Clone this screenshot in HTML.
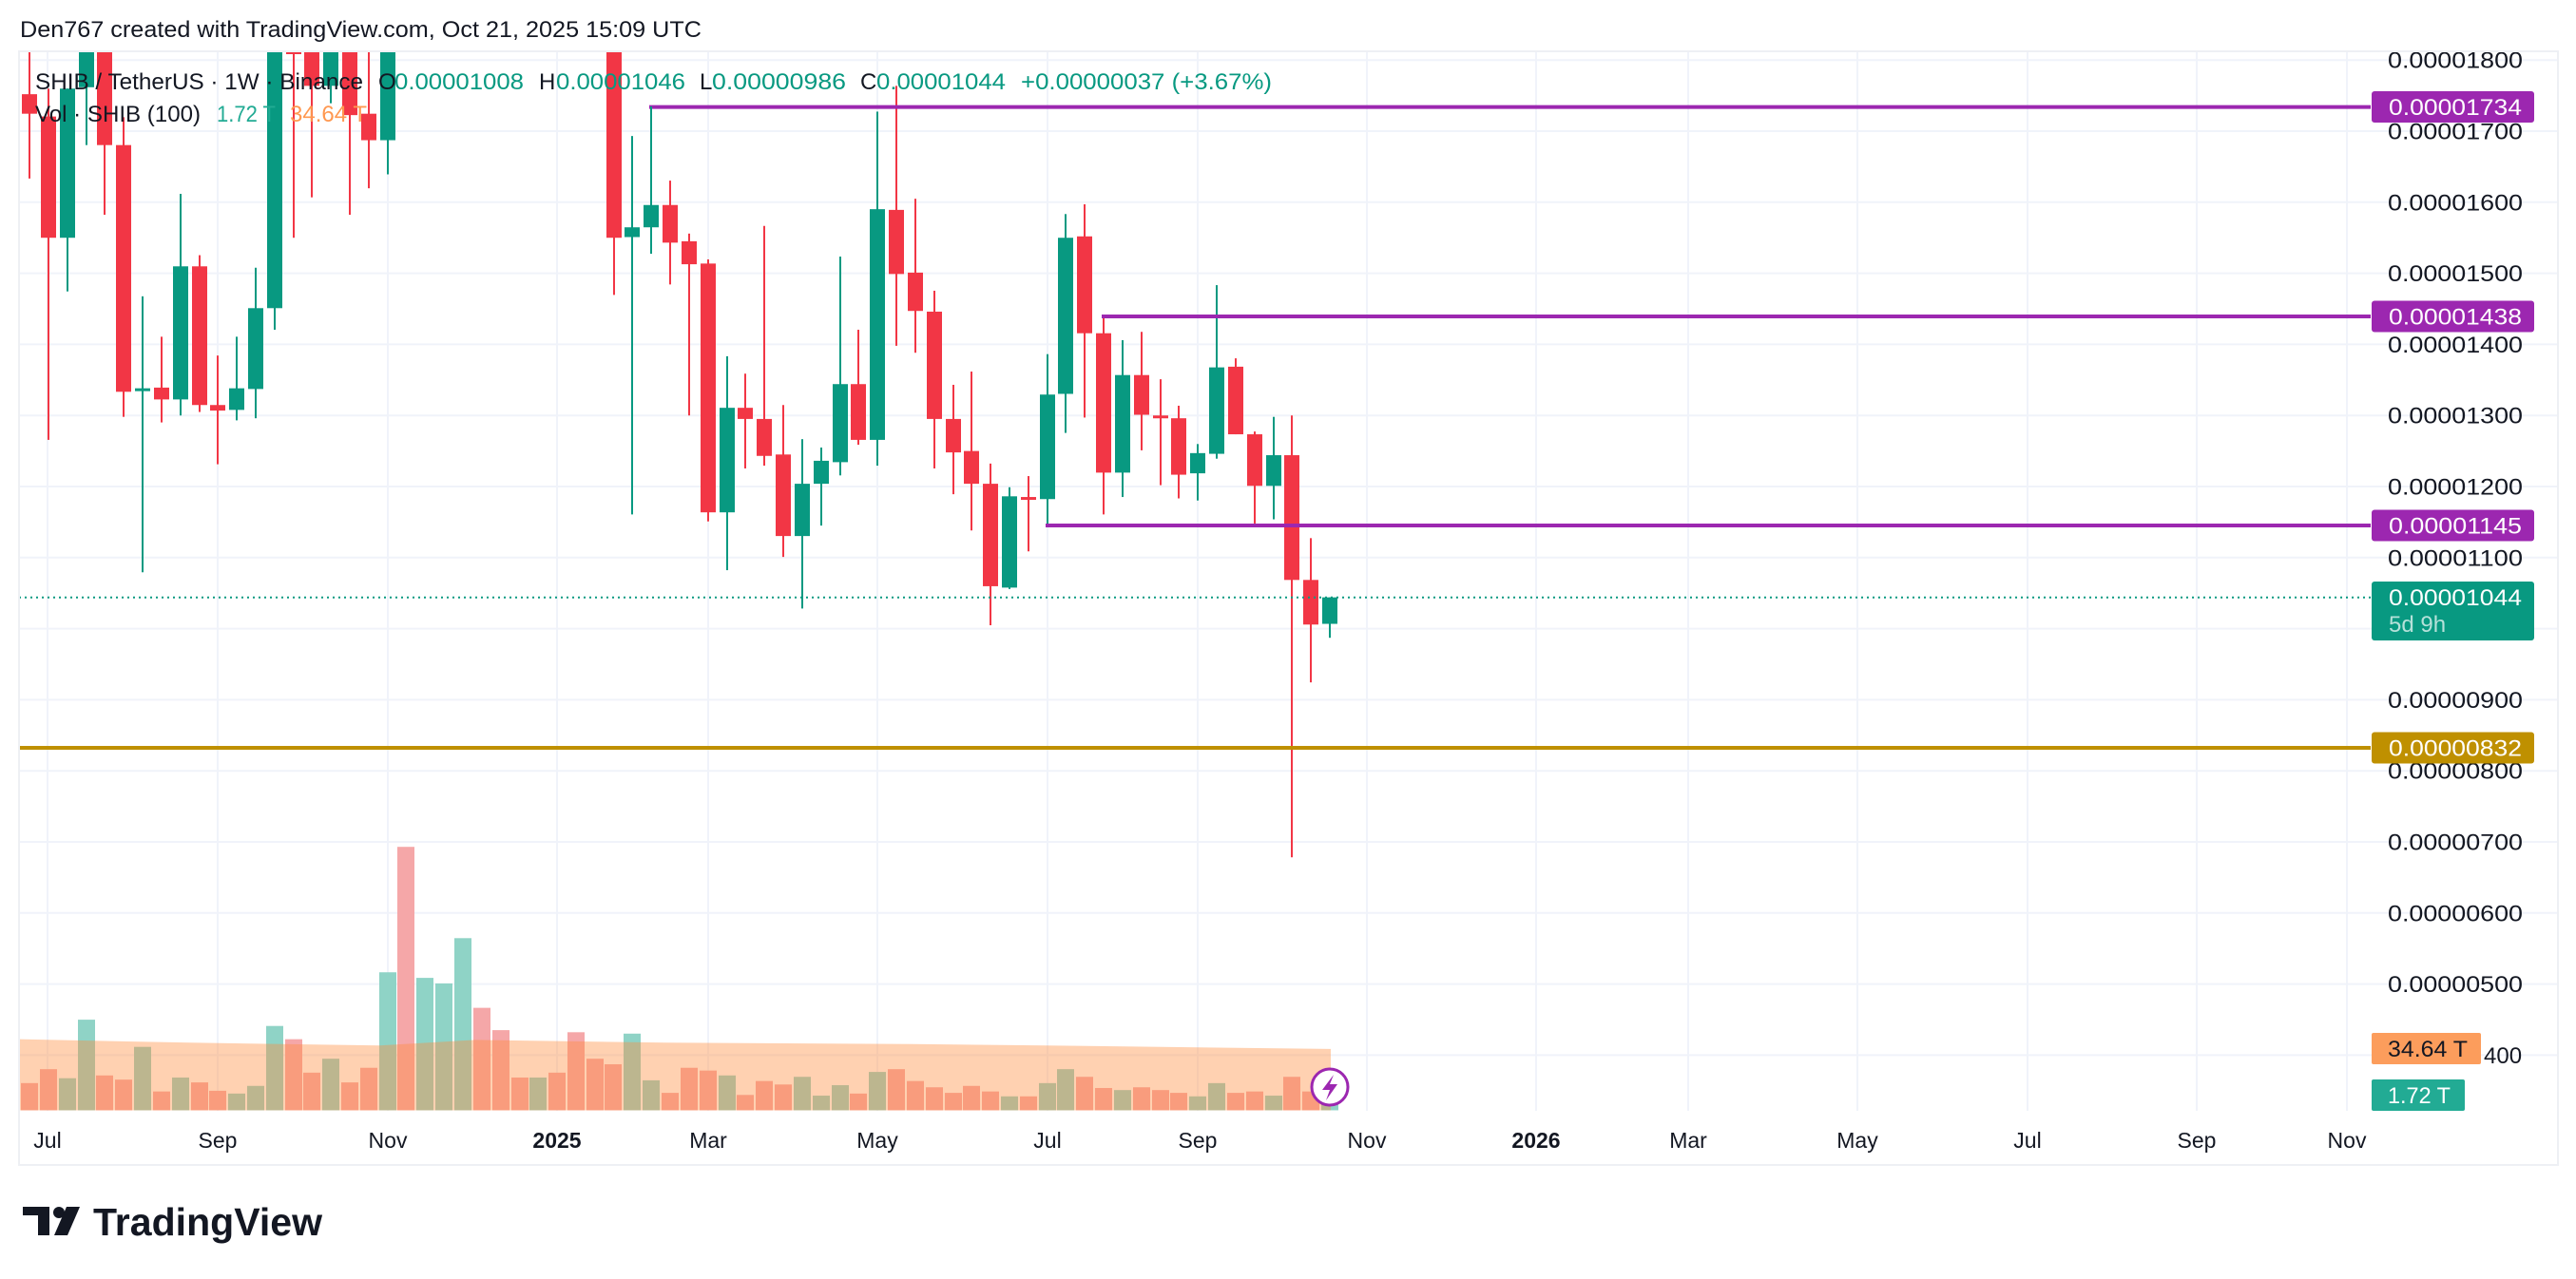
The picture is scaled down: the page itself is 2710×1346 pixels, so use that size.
<!DOCTYPE html>
<html><head><meta charset="utf-8">
<style>
html,body{margin:0;padding:0;background:#fff;}
svg{display:block;}
text{font-family:"Liberation Sans",sans-serif;}
</style></head>
<body>
<svg id="s" width="2710" height="1346" viewBox="0 0 2710 1346" xmlns="http://www.w3.org/2000/svg">
<rect width="2710" height="1346" fill="#fff"/>
<g id="grid" stroke="#f0f3fa" stroke-width="2"></g>
<g id="vol"></g>
<g id="candles"></g>
<g id="lines"></g>
<g id="axis"></g>
<rect x="20" y="54" width="2671" height="1172" fill="none" stroke="#eef0f4" stroke-width="2"/>

<text x="21" y="39" font-size="24" fill="#131722" textLength="717" lengthAdjust="spacingAndGlyphs">Den767 created with TradingView.com, Oct 21, 2025 15:09 UTC</text>

<g font-size="24">
<text x="37" y="94" fill="#131722" textLength="345" lengthAdjust="spacingAndGlyphs">SHIB / TetherUS · 1W · Binance</text>
<text x="398" y="94" fill="#131722">O</text>
<text x="415" y="94" fill="#089981" textLength="136" lengthAdjust="spacingAndGlyphs">0.00001008</text>
<text x="567" y="94" fill="#131722">H</text>
<text x="585" y="94" fill="#089981" textLength="136" lengthAdjust="spacingAndGlyphs">0.00001046</text>
<text x="736" y="94" fill="#131722">L</text>
<text x="749" y="94" fill="#089981" textLength="141" lengthAdjust="spacingAndGlyphs">0.00000986</text>
<text x="905" y="94" fill="#131722">C</text>
<text x="922" y="94" fill="#089981" textLength="136" lengthAdjust="spacingAndGlyphs">0.00001044</text>
<text x="1074" y="94" fill="#089981" textLength="264" lengthAdjust="spacingAndGlyphs">+0.00000037 (+3.67%)</text>
<text x="37" y="128" fill="#131722" textLength="174" lengthAdjust="spacingAndGlyphs">Vol · SHIB (100)</text>
<text x="228" y="128" fill="#22ab94" textLength="62" lengthAdjust="spacingAndGlyphs">1.72 T</text>
<text x="305" y="128" fill="#ff9850" textLength="81" lengthAdjust="spacingAndGlyphs">34.64 T</text>
</g>

<g fill="#131722">
<rect x="24" y="1270" width="28" height="9"/>
<rect x="40" y="1270" width="12" height="30"/>
<circle cx="62" cy="1276" r="6"/>
<polygon points="70,1270 84,1270 71,1300 57,1300"/>
</g>
<text x="98" y="1300" font-size="41" font-weight="bold" fill="#131722" textLength="241" lengthAdjust="spacingAndGlyphs">TradingView</text>
</svg>
<script>
(function(){
var NS="http://www.w3.org/2000/svg";
function el(p,t,a){var e=document.createElementNS(NS,t);for(var k in a)e.setAttribute(k,a[k]);p.appendChild(e);return e;}
function Y(py){return 50+py/1.3635;}
var grid=document.getElementById('grid');
function py2(p){return 138+(1700-p)*0.748;}
for(var p=400;p<=1800;p+=100){var y=py2(p);el(grid,'line',{x1:20,x2:2691,y1:y,y2:y});}
var months=[[50,'Jul'],[229,'Sep'],[408,'Nov'],[586,'2025',1],[745,'Mar'],[923,'May'],[1102,'Jul'],[1260,'Sep'],[1438,'Nov'],[1616,'2026',1],[1776,'Mar'],[1954,'May'],[2133,'Jul'],[2311,'Sep'],[2469,'Nov']];
months.forEach(function(m){el(grid,'line',{x1:m[0],x2:m[0],y1:54,y2:1169});});
var ax=document.getElementById('axis');
months.forEach(function(m){var t=el(ax,'text',{x:m[0],y:1208,'font-size':23,fill:'#131722','text-anchor':'middle'});if(m[2])t.setAttribute('font-weight','bold');t.textContent=m[1];});
var vg=document.getElementById('vol');
var V=[[31,1486,'r'],[51,1466,'r'],[71,1479,'g'],[91,1395,'g'],[110,1475,'r'],[130,1481,'r'],[150,1434,'g'],[170,1498,'r'],[190,1478,'g'],[210,1485,'r'],[229,1497,'r'],[249,1501,'g'],[269,1490,'g'],[289,1404,'g'],[309,1423,'r'],[328,1471,'r'],[348,1451,'g'],[368,1485,'r'],[388,1464,'r'],[408,1327,'g'],[427,1147,'r'],[447,1335,'g'],[467,1343,'g'],
[487,1278,'g'],[507,1378,'r'],[527,1410,'r'],[547,1478,'r'],[566,1478,'g'],[586,1471,'r'],[606,1413,'r'],[626,1451,'r'],[645,1459,'r'],[665,1415,'g'],[685,1482,'g'],[705,1500,'r'],[725,1464,'r'],[745,1468,'r'],[765,1475,'g'],[784,1503,'r'],[804,1483,'r'],[824,1488,'r'],[844,1477,'g'],[864,1504,'g'],[884,1489,'g'],[903,1501,'r'],[923,1470,'g'],[943,1466,'r'],
[963,1483,'r'],[983,1492,'r'],[1003,1500,'r'],[1022,1490,'r'],[1042,1498,'r'],[1062,1505,'g'],[1082,1505,'r'],[1102,1486,'g'],[1121,1466,'g'],[1141,1477,'r'],[1161,1493,'r'],[1181,1496,'g'],[1201,1492,'r'],[1221,1496,'r'],[1240,1500,'r'],[1260,1505,'g'],[1280,1486,'g'],[1300,1500,'r'],[1320,1498,'r'],[1340,1504,'g'],[1359,1477,'r'],[1379,1498,'r'],[1399,1515,'g']];
var bot=Y(1525);
V.forEach(function(v){var t=Y(v[1]);el(vg,'rect',{x:v[0]-9,y:t,width:18,height:bot-t,fill:v[2]=='g'?'#8fd3c6':'#f5a7a8'});});
var ma=[[20,1423],[200,1428],[400,1432],[500,1424],[700,1428],[960,1430],[1100,1432],[1400,1437]];
var d='M20,'+bot;ma.forEach(function(q){d+=' L'+q[0]+','+Y(q[1]);});d+=' L1400,'+bot+' Z';
el(vg,'path',{d:d,fill:'rgba(255,140,60,0.4)'});
var cg=document.getElementById('candles');
var C=[[31,67,95,0,188,'r'],[51,99,273,59,563,'r'],[71,59,273,59,350,'g'],[91,0,57,0,140,'g'],[110,0,140,0,240,'r'],[130,140,494,100,530,'r'],[150,489,493,357,753,'g'],[170,488,505,415,538,'r'],[190,314,505,210,528,'g'],[210,314,513,298,523,'r'],[229,513,521,442,598,'r'],[249,489,520,415,535,'g'],[269,374,490,316,532,'g'],[289,0,374,0,405,'g'],[309,0,4,0,273,'r'],[328,0,55,0,215,'r'],[348,0,55,0,80,'g'],[368,0,97,0,240,'r'],[388,95,133,0,202,'r'],[408,0,133,0,182,'g'],
[646,0,273,0,355,'r'],[665,258,272,127,670,'g'],[685,226,258,85,296,'g'],[705,226,280,191,340,'r'],[725,278,311,267,528,'r'],[745,310,667,304,680,'r'],[765,517,667,443,750,'g'],[784,517,533,468,604,'r'],[804,533,586,256,600,'r'],[824,584,701,513,731,'r'],[844,626,701,562,805,'g'],[864,593,626,574,686,'g'],[884,483,595,300,614,'g'],[903,483,563,405,570,'r'],[923,232,563,92,600,'g'],[943,233,325,55,428,'r'],
[963,323,378,217,438,'r'],[983,379,533,349,604,'r'],[1003,533,581,484,641,'r'],[1022,579,626,465,693,'r'],[1042,626,773,597,829,'r'],[1062,644,775,631,777,'g'],[1082,645,649,615,723,'r'],[1102,498,648,440,686,'g'],[1121,273,497,239,553,'g'],[1141,271,410,225,531,'r'],[1161,410,610,386,670,'r'],[1181,470,610,420,645,'g'],[1201,470,527,408,578,'r'],[1221,528,532,476,628,'r'],[1240,532,613,514,647,'r'],[1260,582,611,569,650,'g'],[1280,459,583,341,590,'g'],[1300,458,555,446,555,'r'],[1320,555,629,551,683,'r'],[1340,585,629,530,677,'g'],[1359,585,764,528,1162,'r'],[1379,764,828,704,911,'r'],[1399,789,827,789,847,'g']];
C.forEach(function(c){var col=c[5]=='g'?'#089981':'#f23645';
var wt=Math.max(54,Y(c[3])),wb=Y(c[4]),bt=Math.max(54,Y(c[1])),bb=Y(c[2]);if(bb-bt<3)bb=bt+3;
el(cg,'rect',{x:c[0]-1,y:wt,width:2,height:wb-wt,fill:col});
el(cg,'rect',{x:c[0]-8,y:bt,width:16,height:bb-bt,fill:col});});
var lg=document.getElementById('lines');
el(lg,'line',{x1:20,x2:2494,y1:628.7,y2:628.7,stroke:'#089981','stroke-width':2,'stroke-dasharray':'2,4'});
el(lg,'line',{x1:20,x2:2494,y1:787,y2:787,stroke:'#bf9000','stroke-width':4});
el(lg,'line',{x1:683,x2:2494,y1:112.6,y2:112.6,stroke:'#9c27b0','stroke-width':4});
el(lg,'line',{x1:685,x2:685,y1:112,y2:Y(226),stroke:'#089981','stroke-width':2});
el(lg,'line',{x1:1159,x2:2494,y1:333,y2:333,stroke:'#9c27b0','stroke-width':4});
el(lg,'line',{x1:1100,x2:2494,y1:553,y2:553,stroke:'#9c27b0','stroke-width':4});
el(lg,'circle',{cx:1399,cy:1144,r:19,fill:'#fff',stroke:'#9c27b0','stroke-width':3});
el(lg,'polygon',{points:'1403,1131 1391,1147 1399,1147 1395,1158 1407,1141 1399,1141',fill:'#9c27b0'});
for(var p=500;p<=1800;p+=100){var t=el(ax,'text',{x:2512,y:py2(p)+8.5,'font-size':24,fill:'#131722',textLength:142,lengthAdjust:'spacingAndGlyphs'});t.textContent='0.0000'+(p<1000?'0':'')+p;}
var t4=el(ax,'text',{x:2613,y:py2(400)+8.5,'font-size':24,fill:'#131722'});t4.textContent='400';
function box(y,h,col,txt,tc,w){el(ax,'rect',{x:2495,y:y,width:w||171,height:h,rx:3,fill:col});var t=el(ax,'text',{x:2513,y:y+h/2+8.5,'font-size':24,fill:tc||'#fff',textLength:140,lengthAdjust:'spacingAndGlyphs'});t.textContent=txt;return t;}
box(96,33,'#9c27b0','0.00001734');
box(316.5,33,'#9c27b0','0.00001438');
box(536.5,33,'#9c27b0','0.00001145');
box(770.5,33,'#bf9000','0.00000832');
el(ax,'rect',{x:2495,y:612,width:171,height:62,rx:3,fill:'#089981'});
var a=el(ax,'text',{x:2513,y:637,'font-size':24,fill:'#fff',textLength:140,lengthAdjust:'spacingAndGlyphs'});a.textContent='0.00001044';
var b=el(ax,'text',{x:2513,y:665,'font-size':24,fill:'rgba(255,255,255,0.7)'});b.textContent='5d 9h';
el(ax,'rect',{x:2495,y:1087,width:115,height:33,rx:2,fill:'#fc9d5c'});
var c1=el(ax,'text',{x:2512,y:1112,'font-size':24,fill:'#131722',textLength:84,lengthAdjust:'spacingAndGlyphs'});c1.textContent='34.64 T';
el(ax,'rect',{x:2495,y:1136,width:98,height:33,rx:2,fill:'#22ab94'});
var c2=el(ax,'text',{x:2512,y:1161,'font-size':24,fill:'#fff',textLength:66,lengthAdjust:'spacingAndGlyphs'});c2.textContent='1.72 T';
})();
</script>
</body></html>
